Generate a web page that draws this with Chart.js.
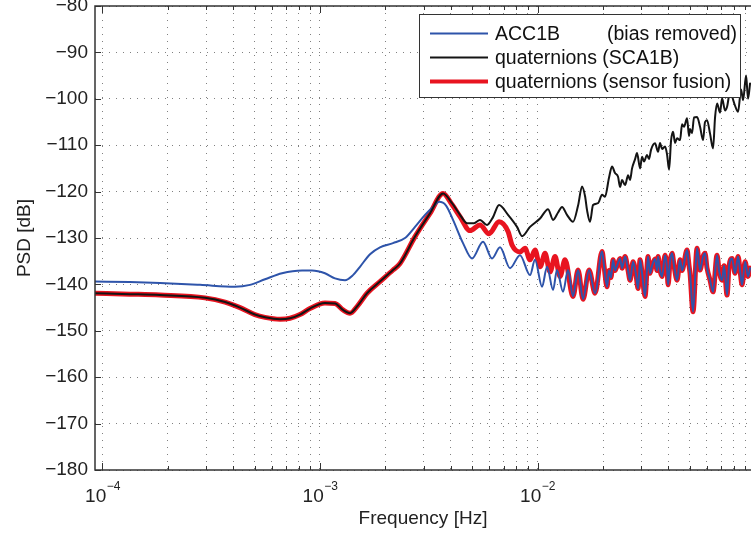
<!DOCTYPE html>
<html>
<head>
<meta charset="utf-8">
<script src="https://cdn.jsdelivr.net/npm/chart.js@4.4.1/dist/chart.umd.min.js"></script>
<style>
  html, body { margin: 0; padding: 0; background: #fff; overflow: hidden; }
  #wrap { width: 751px; height: 536px; }
</style>
</head>
<body>
<div id="wrap"><canvas id="psdChart" width="751" height="536"></canvas></div>
<script>
// frequencies in Hz, PSD in dB
var accFreq = [9.24e-5, 1.338e-4, 1.838e-4, 2.81e-4, 4.067e-4, 4.767e-4, 5.59e-4, 6.69e-4, 8.27e-4, 9.19e-4,
    1.054e-3, 1.172e-3, 1.303e-3, 1.418e-3, 1.527e-3, 1.698e-3, 1.887e-3, 2.166e-3, 2.459e-3, 2.734e-3,
    3.04e-3, 3.307e-3, 3.525e-3, 3.797e-3, 4.088e-3, 4.544e-3, 4.999e-3, 5.616e-3, 6.178e-3, 6.724e-3,
    7.475e-3, 8.309e-3, 9.237e-3, 9.739e-3, 1.049e-2, 1.106e-2, 1.179e-2, 1.229e-2, 1.31e-2, 1.381e-2,
    1.456e-2, 1.536e-2, 1.619e-2, 1.725e-2, 1.839e-2, 1.98e-2, 2.022e-2, 2.087e-2, 2.131e-2, 2.177e-2,
    2.224e-2, 2.271e-2, 2.32e-2, 2.395e-2, 2.447e-2, 2.526e-2, 2.608e-2, 2.664e-2, 2.749e-2, 2.838e-2,
    2.899e-2, 2.96e-2, 3.024e-2, 3.121e-2, 3.221e-2, 3.29e-2, 3.36e-2, 3.469e-2, 3.543e-2, 3.581e-2,
    3.658e-2, 3.736e-2, 3.857e-2, 3.94e-2, 3.982e-2, 4.067e-2, 4.154e-2, 4.243e-2, 4.38e-2, 4.521e-2,
    4.618e-2, 4.667e-2, 4.868e-2, 4.972e-2, 5.025e-2, 5.187e-2, 5.411e-2, 5.527e-2, 5.586e-2, 5.766e-2,
    5.889e-2, 6.016e-2, 6.21e-2, 6.411e-2, 6.689e-2, 6.832e-2, 7.053e-2, 7.204e-2, 7.436e-2, 7.595e-2,
    7.841e-2, 8.094e-2, 8.354e-2, 8.533e-2, 8.716e-2, 8.999e-2, 9.286e-2, 9.485e-2];
var accPsd = [-139.4, -139.5, -139.7, -140.1, -140.5, -140.1, -138.9, -137.6, -137.0, -137.0,
    -137.6, -138.7, -139.1, -138.0, -136.2, -133.5, -132.0, -131.1, -130.0, -127.6,
    -125.0, -123.3, -122.2, -123.0, -126.1, -131.1, -134.4, -130.8, -134.4, -132.0,
    -136.5, -133.7, -138.0, -134.7, -140.5, -136.2, -141.2, -136.9, -141.6, -136.9,
    -142.6, -136.9, -143.2, -136.9, -141.9, -132.9, -136.0, -140.5, -137.0, -138.5,
    -134.7, -137.0, -136.0, -134.4, -136.5, -134.0, -137.0, -139.1, -135.1, -138.0,
    -140.9, -134.7, -137.5, -142.6, -134.0, -137.6, -136.0, -134.5, -137.0, -134.0,
    -137.0, -138.3, -133.7, -136.5, -140.1, -135.0, -133.3, -136.0, -139.1, -134.7,
    -137.0, -136.5, -132.6, -136.0, -137.6, -145.9, -132.2, -135.5, -136.9, -134.0,
    -133.3, -136.5, -139.1, -141.6, -133.7, -137.0, -139.1, -136.0, -142.3, -136.0,
    -134.4, -137.6, -134.0, -137.0, -140.1, -135.1, -138.3, -136.5];

// SCA1B quaternions, up to the peak (the fusion curve follows it here)
var quatFreqLow = [9.24e-5, 1.338e-4, 1.838e-4, 2.96e-4, 3.66e-4, 4.29e-4, 5.02e-4, 5.59e-4, 6.55e-4, 7.28e-4,
    8.09e-4, 8.99e-4, 1.054e-3, 1.172e-3, 1.276e-3, 1.374e-3, 1.495e-3, 1.645e-3, 1.887e-3, 2.166e-3,
    2.333e-3, 2.734e-3, 3.204e-3, 3.678e-3];
var quatPsdLow = [-141.9, -142.1, -142.3, -142.9, -143.8, -145.0, -146.5, -147.1, -147.5, -147.3,
    -146.5, -145.2, -144.0, -144.1, -145.5, -146.2, -144.5, -141.9, -139.4, -136.9,
    -135.5, -129.7, -124.7, -120.4];

// SCA1B quaternions, above the peak
var quatFreqHigh = [4.045e-3, 4.402e-3, 4.741e-3, 5.105e-3, 5.44e-3, 5.859e-3, 6.244e-3, 6.653e-3, 7.318e-3, 8.049e-3,
    8.487e-3, 9.237e-3, 1.027e-2, 1.118e-2, 1.179e-2, 1.243e-2, 1.296e-2, 1.366e-2, 1.456e-2, 1.536e-2,
    1.602e-2, 1.654e-2, 1.689e-2, 1.743e-2, 1.8e-2, 1.898e-2, 1.98e-2, 2.043e-2, 2.131e-2, 2.2e-2,
    2.271e-2, 2.345e-2, 2.395e-2, 2.447e-2, 2.526e-2, 2.608e-2, 2.664e-2, 2.72e-2, 2.808e-2, 2.868e-2,
    2.96e-2, 3.024e-2, 3.088e-2, 3.187e-2, 3.255e-2, 3.325e-2, 3.469e-2, 3.581e-2, 3.658e-2, 3.736e-2,
    3.857e-2, 3.94e-2, 4.024e-2, 4.11e-2, 4.198e-2, 4.288e-2, 4.38e-2, 4.521e-2, 4.618e-2, 4.716e-2,
    4.868e-2, 4.972e-2, 5.025e-2, 5.132e-2, 5.242e-2, 5.411e-2, 5.586e-2, 5.766e-2, 5.889e-2, 6.016e-2,
    6.21e-2, 6.411e-2, 6.548e-2, 6.689e-2, 6.905e-2, 7.053e-2, 7.28e-2, 7.436e-2, 7.676e-2, 7.841e-2,
    8.094e-2, 8.354e-2, 8.625e-2, 8.81e-2, 9.094e-2, 9.286e-2, 9.485e-2];
var quatPsdHigh = [-122.5, -125.0, -126.8, -126.8, -126.1, -127.2, -125.5, -122.9, -125.0, -127.6,
    -129.6, -127.6, -125.8, -123.8, -126.1, -124.5, -123.3, -125.0, -126.5, -123.0,
    -118.9, -121.0, -124.0, -126.5, -122.9, -122.5, -120.7, -121.1, -117.0, -114.6,
    -116.0, -116.8, -119.0, -117.5, -118.6, -116.5, -117.5, -115.0, -113.0, -111.7,
    -115.0, -112.5, -113.5, -112.1, -113.0, -111.0, -109.6, -111.4, -109.5, -110.8,
    -110.3, -112.0, -115.3, -109.0, -107.1, -109.5, -108.5, -108.9, -105.5, -106.0,
    -104.2, -108.0, -106.5, -107.4, -104.0, -103.9, -106.0, -108.9, -105.0, -104.6,
    -107.5, -110.7, -104.0, -101.0, -103.0, -99.9, -102.5, -101.7, -98.5, -99.5,
    -101.5, -102.8, -98.0, -100.3, -95.0, -100.0, -96.7];

// sensor fusion between the peak and where it joins the ACC1B curve
var fusionFreqMid = [4.045e-3, 4.402e-3, 4.894e-3, 5.44e-3, 5.984e-3, 6.653e-3, 7.318e-3, 7.635e-3, 8.309e-3, 8.761e-3,
    9.237e-3, 9.739e-3, 1.027e-2, 1.083e-2, 1.141e-2, 1.204e-2, 1.269e-2, 1.338e-2];
var fusionPsdMid = [-122.8, -125.4, -128.4, -127.2, -129.1, -126.5, -128.6, -131.5, -133.0, -132.2,
    -134.7, -132.6, -136.2, -133.3, -137.3, -134.0, -138.3, -134.7];
var fusionJoinFreq = 1.45e-2;

var seriesLabels = ['ACC1B', 'quaternions (SCA1B)', 'quaternions (sensor fusion)'];
var seriesNotes = ['(bias removed)', '', ''];
var seriesColors = ['rgb(46,84,170)', 'rgb(20,20,20)', 'rgb(232,20,32)'];
var seriesWidths = [2, 2, 5];
var xDecades = [-4, -3, -2];
var xMin = 9.24e-5, xMax = 0.0958;
var yMin = -180, yMax = -80, yStep = 10;

function toPoints(f, v) {
    return f.map(function (x, i) { return { x: x, y: v[i] }; });
}

var accPoints = toPoints(accFreq, accPsd);
var quatPoints = toPoints(quatFreqLow, quatPsdLow).concat(toPoints(quatFreqHigh, quatPsdHigh));
var fusionPoints = toPoints(quatFreqLow, quatPsdLow)
    .concat(toPoints(fusionFreqMid, fusionPsdMid))
    .concat(accPoints.filter(function (p) { return p.x >= fusionJoinFreq; }));

var FONT = "'Liberation Sans', Arial, Helvetica, sans-serif";
Chart.defaults.font.family = FONT;
Chart.defaults.color = '#222';

var matlabFrame = {
    id: 'matlabFrame',
    afterDraw: function (chart) {
        var ctx = chart.ctx;
        var a = chart.chartArea;
        var xs = chart.scales.x, ys = chart.scales.y;
        ctx.save();

        // inward tick marks
        ctx.strokeStyle = '#333';
        ctx.lineWidth = 1;
        ctx.beginPath();
        xs.ticks.forEach(function (t) {
            var px = Math.round(xs.getPixelForValue(t.value)) + 0.5;
            var lg = Math.log10(t.value);
            var len = Math.abs(lg - Math.round(lg)) < 1e-6 ? 7 : 4;
            ctx.moveTo(px, a.bottom); ctx.lineTo(px, a.bottom - len);
            ctx.moveTo(px, a.top); ctx.lineTo(px, a.top + len);
        });
        ys.ticks.forEach(function (t) {
            var py = Math.round(ys.getPixelForValue(t.value)) + 0.5;
            ctx.moveTo(a.left, py); ctx.lineTo(a.left + 6, py);
        });
        ctx.stroke();

        // axes box
        ctx.strokeStyle = '#333';
        ctx.lineWidth = 1.5;
        ctx.strokeRect(a.left, a.top, a.right - a.left + 2, a.bottom - a.top);

        // x tick labels 10^n
        ctx.fillStyle = '#222';
        ctx.textBaseline = 'alphabetic';
        ctx.textAlign = 'left';
        xDecades.forEach(function (d) {
            var px = xs.getPixelForValue(Math.pow(10, d));
            var base = '10', sup = '\u2212' + Math.abs(d);
            ctx.font = '19px ' + FONT;
            var wb = ctx.measureText(base).width;
            ctx.font = '12px ' + FONT;
            var wsup = ctx.measureText(sup).width;
            var x0 = px - (wb + wsup) / 2;
            ctx.font = '19px ' + FONT;
            ctx.fillText(base, x0, 502);
            ctx.font = '12px ' + FONT;
            ctx.fillText(sup, x0 + wb + 0.5, 490);
        });

        // legend box
        var lx = 419, ly = 14, lw = 321, lh = 83;
        ctx.fillStyle = '#fff';
        ctx.fillRect(lx, ly, lw, lh);
        ctx.strokeStyle = '#333';
        ctx.lineWidth = 1;
        ctx.strokeRect(lx + 0.5, ly + 0.5, lw, lh);
        ctx.font = '19.5px ' + FONT;
        ctx.textBaseline = 'middle';
        chart.data.datasets.forEach(function (ds, i) {
            var ry = 33.5 + i * 24;
            ctx.strokeStyle = ds.borderColor;
            ctx.lineWidth = i === 2 ? 4 : 2;
            ctx.beginPath();
            ctx.moveTo(430, ry); ctx.lineTo(488, ry);
            ctx.stroke();
            ctx.fillStyle = '#111';
            ctx.fillText(ds.label, 495, ry + 1);
            if (seriesNotes[i]) ctx.fillText(seriesNotes[i], 607, ry + 1);
        });
        ctx.restore();
    }
};

var ctx = document.getElementById('psdChart').getContext('2d');
var chart = new Chart(ctx, {
    type: 'line',
    data: {
        datasets: [
            { label: seriesLabels[0], data: accPoints, borderColor: seriesColors[0], borderWidth: seriesWidths[0], order: 1 },
            { label: seriesLabels[1], data: quatPoints, borderColor: seriesColors[1], borderWidth: seriesWidths[1], order: 0 },
            { label: seriesLabels[2], data: fusionPoints, borderColor: seriesColors[2], borderWidth: seriesWidths[2], order: 2 }
        ]
    },
    options: {
        responsive: false,
        animation: false,
        parsing: false,
        layout: { padding: { top: 6, right: 0, left: 0, bottom: 0 } },
        elements: {
            point: { radius: 0 },
            line: { cubicInterpolationMode: 'monotone', fill: false, borderJoinStyle: 'round', borderCapStyle: 'round' }
        },
        plugins: {
            legend: { display: false },
            tooltip: { enabled: false }
        },
        scales: {
            x: {
                type: 'logarithmic',
                min: xMin,
                max: xMax,
                afterBuildTicks: function (scale) {
                    var ticks = [];
                    for (var d = -5; d <= -1; d++) {
                        for (var s = 1; s <= 9; s++) {
                            var v = s * Math.pow(10, d);
                            if (v >= xMin && v <= xMax) ticks.push({ value: v });
                        }
                    }
                    scale.ticks = ticks;
                },
                afterFit: function (scale) { scale.height = 66; scale.paddingLeft = 0; scale.paddingRight = 0; },
                ticks: { display: false },
                grid: { color: '#808080', lineWidth: 1, drawTicks: false },
                border: { display: false, dash: [1, 6] },
                title: { display: true, text: 'Frequency [Hz]', font: { size: 19 }, color: '#222', padding: { top: 0, bottom: 6 } }
            },
            y: {
                min: yMin,
                max: yMax,
                afterFit: function (scale) { scale.width = 95; scale.paddingTop = 0; scale.paddingBottom = 0; },
                ticks: {
                    stepSize: yStep,
                    padding: 7,
                    font: { size: 19 },
                    color: '#222',
                    callback: function (v) { return v < 0 ? '\u2212' + Math.abs(v) : String(v); }
                },
                grid: { color: '#808080', lineWidth: 1, drawTicks: false },
                border: { display: false, dash: [1, 6] },
                title: { display: true, text: 'PSD [dB]', font: { size: 19 }, color: '#222', padding: { top: 13, bottom: 0 } }
            }
        }
    },
    plugins: [matlabFrame]
});
</script>
</body>
</html>
